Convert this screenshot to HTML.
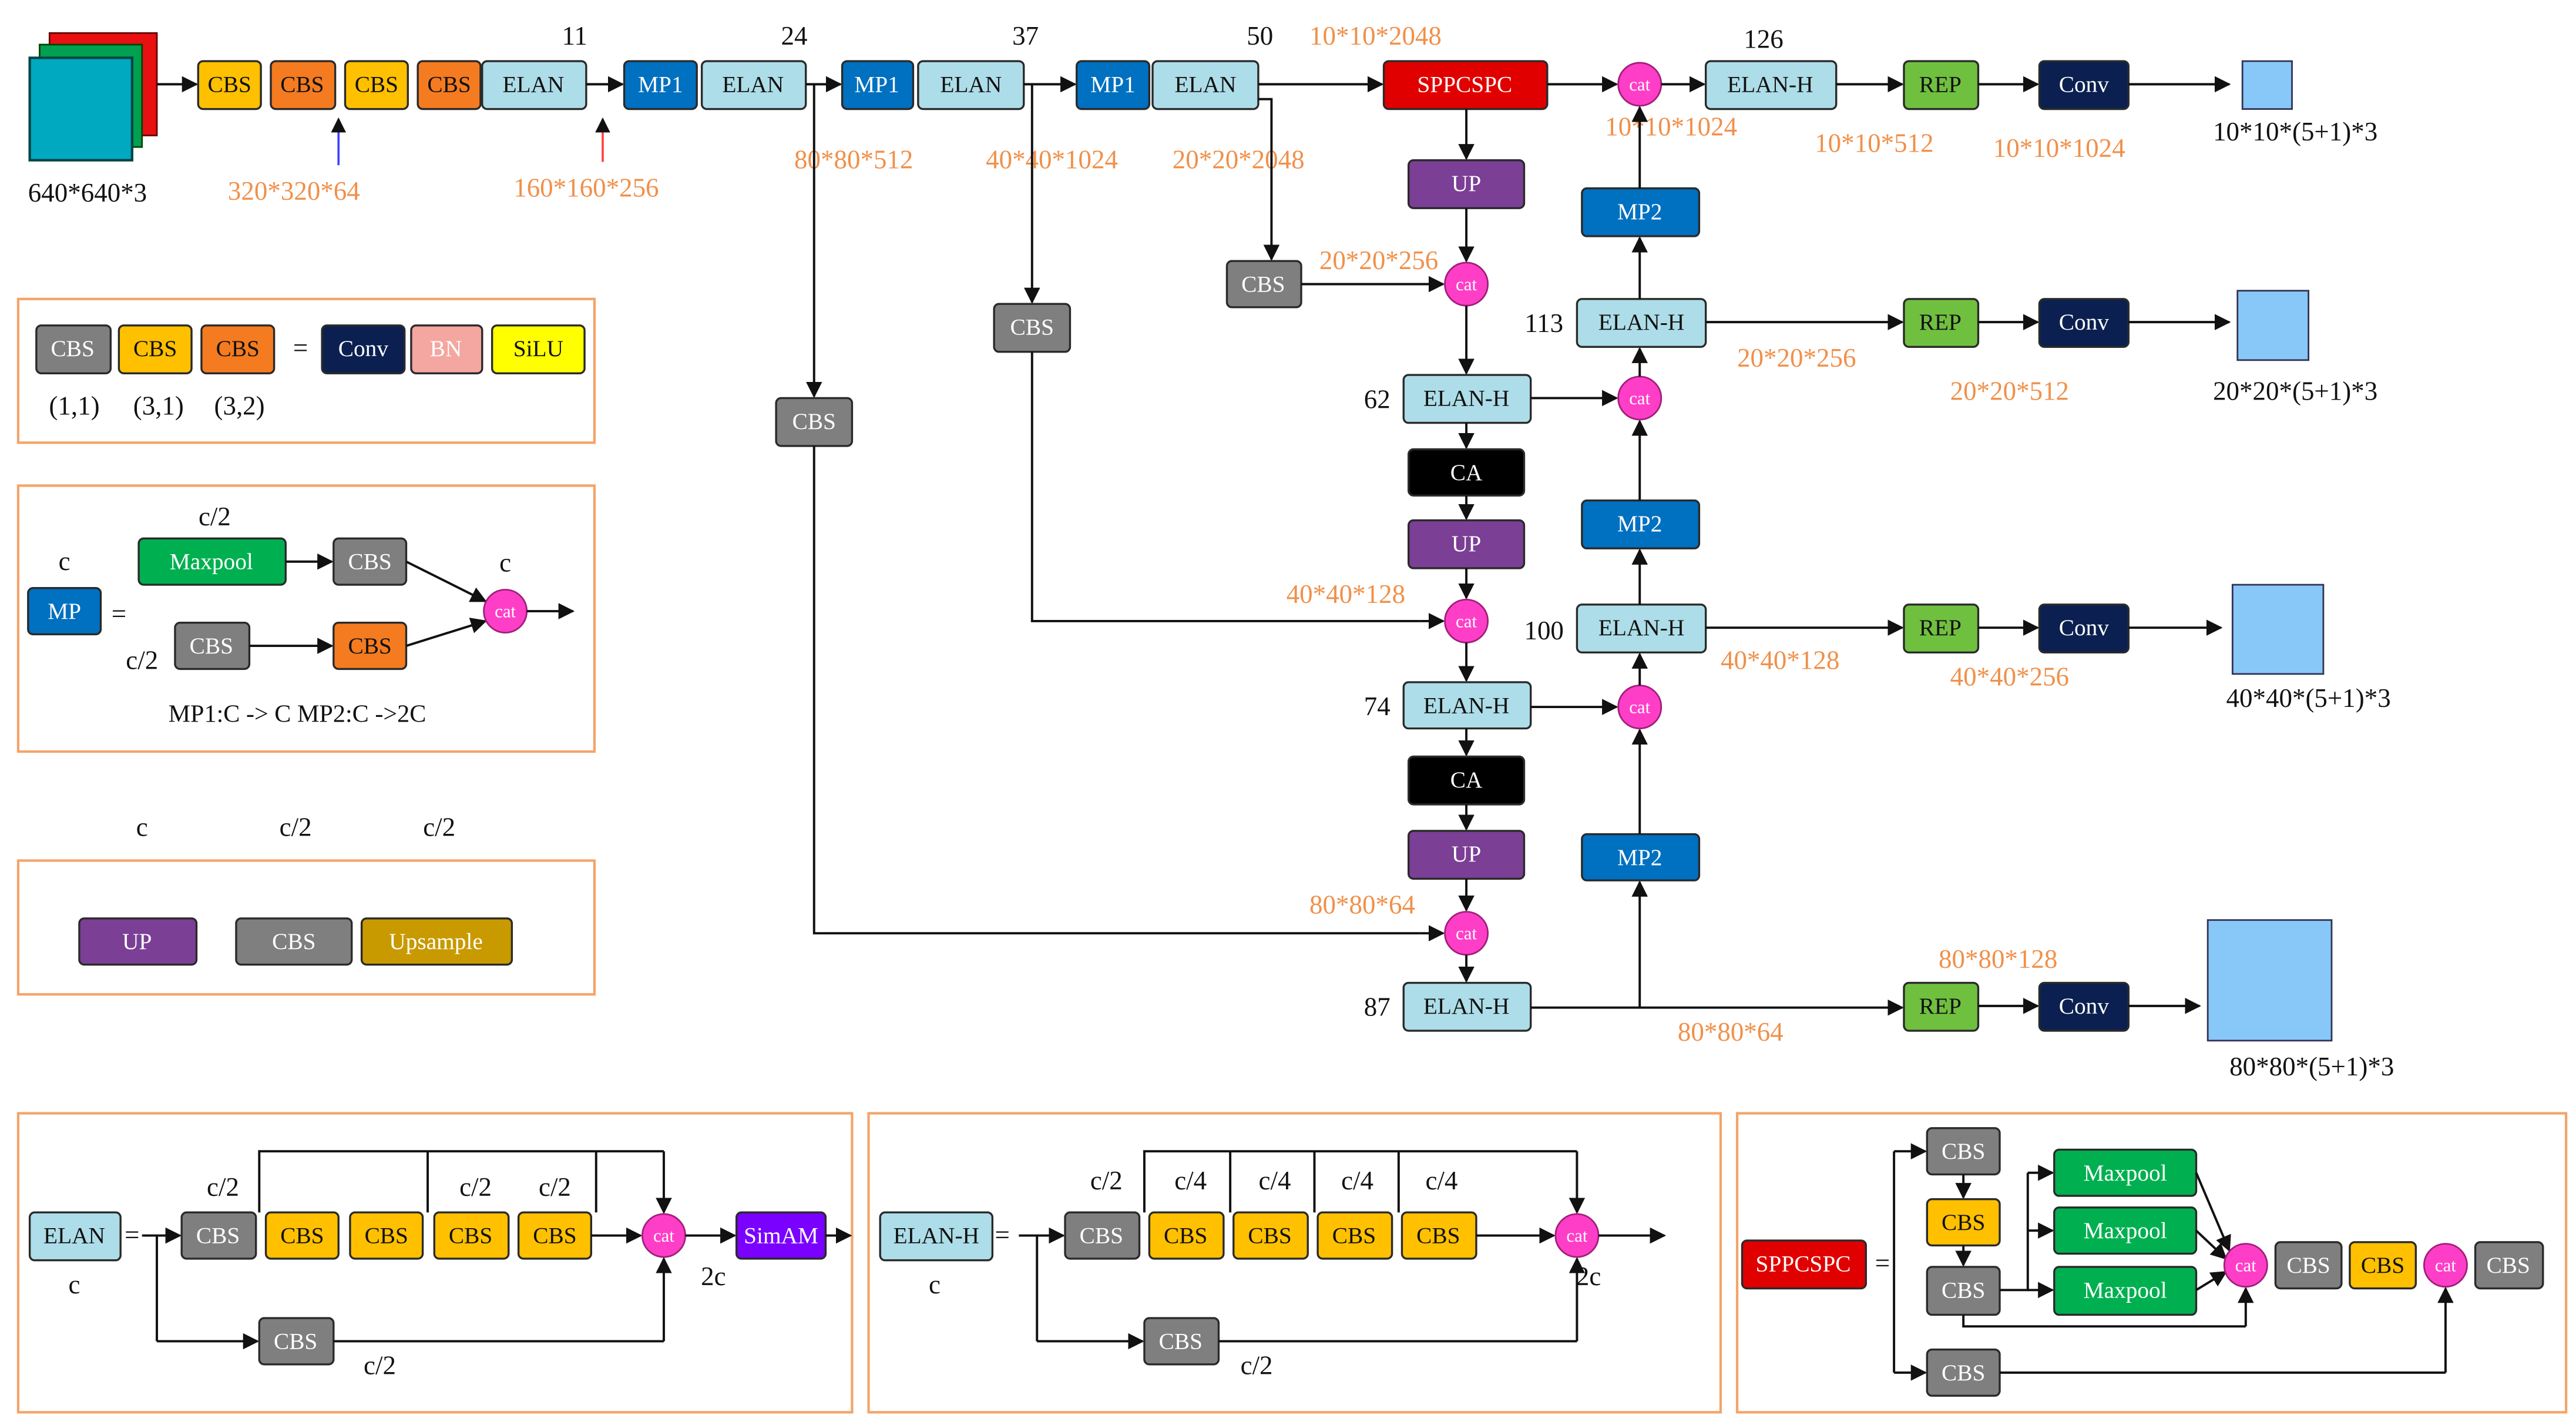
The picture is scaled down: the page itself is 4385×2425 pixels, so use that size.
<!DOCTYPE html>
<html><head><meta charset="utf-8"><style>
html,body{margin:0;padding:0;background:#fff;}
svg{display:block;}
text{font-family:"Liberation Serif",serif;}
.b{stroke:#2a2a2a;stroke-width:1.2;}
.t{font-size:14px;text-anchor:middle;dominant-baseline:central;}
.w{fill:#fff;}
.k{fill:#111;}
.n{font-size:16px;text-anchor:middle;fill:#111;}
.o{font-size:16px;text-anchor:middle;fill:#F0904A;}
.l{stroke:#111;stroke-width:1.4;fill:none;}
.la{stroke:#111;stroke-width:1.4;fill:none;marker-end:url(#ar);}
.pan{fill:none;stroke:#F4A46A;stroke-width:1.5;}
.cat{fill:#FF3EC8;stroke:#a0207a;stroke-width:1;}
</style></head><body>
<svg width="4385" height="2425" viewBox="0 0 1560 862.7" xmlns="http://www.w3.org/2000/svg">
<defs><marker id="ar" viewBox="0 0 10 10" refX="9" refY="5" markerWidth="7" markerHeight="7" orient="auto-start-reverse"><path d="M0,0 L10,5 L0,10 z" fill="#111"/></marker></defs>

<!-- input image -->
<rect x="30" y="20" width="65" height="62" fill="#E81010" stroke="#600" stroke-width="1"/>
<rect x="24" y="27" width="62" height="62" fill="#00A050" stroke="#040" stroke-width="1"/>
<rect x="18" y="35" width="62" height="62" fill="#00A8C0" stroke="#044" stroke-width="1.5"/>
<text class="n" x="53" y="122">640*640*3</text>
<line class="la" x1="95" y1="51" x2="119" y2="51"/>

<!-- top row -->
<rect class="b" x="120" y="37" width="38" height="29" rx="3" fill="#FFC000"/><text class="t k" x="139" y="51">CBS</text>
<rect class="b" x="164" y="37" width="39" height="29" rx="3" fill="#F47B20"/><text class="t k" x="183" y="51">CBS</text>
<rect class="b" x="209" y="37" width="38" height="29" rx="3" fill="#FFC000"/><text class="t k" x="228" y="51">CBS</text>
<rect class="b" x="253" y="37" width="38" height="29" rx="3" fill="#F47B20"/><text class="t k" x="272" y="51">CBS</text>
<rect class="b" x="292" y="37" width="63" height="29" rx="3" fill="#ADDDE8"/><text class="t k" x="323" y="51">ELAN</text>
<line x1="205" y1="100" x2="205" y2="72" stroke="#4040ff" stroke-width="1.3" marker-end="url(#ar)"/>
<line x1="365" y1="98" x2="365" y2="72" stroke="#ff4040" stroke-width="1.3" marker-end="url(#ar)"/>
<text class="o" x="178" y="121">320*320*64</text>
<text class="o" x="355" y="119">160*160*256</text>
<text class="n" x="348" y="27">11</text>
<line class="la" x1="355" y1="51" x2="377" y2="51"/>
<rect class="b" x="378" y="37" width="44" height="29" rx="3" fill="#0070C0"/><text class="t w" x="400" y="51">MP1</text>
<rect class="b" x="425" y="37" width="63" height="29" rx="3" fill="#ADDDE8"/><text class="t k" x="456" y="51">ELAN</text>
<line class="la" x1="488" y1="51" x2="509" y2="51"/>
<rect class="b" x="510" y="37" width="43" height="29" rx="3" fill="#0070C0"/><text class="t w" x="531" y="51">MP1</text>
<rect class="b" x="556" y="37" width="64" height="29" rx="3" fill="#ADDDE8"/><text class="t k" x="588" y="51">ELAN</text>
<line class="la" x1="620" y1="51" x2="651" y2="51"/>
<rect class="b" x="652" y="37" width="44" height="29" rx="3" fill="#0070C0"/><text class="t w" x="674" y="51">MP1</text>
<rect class="b" x="698" y="37" width="64" height="29" rx="3" fill="#ADDDE8"/><text class="t k" x="730" y="51">ELAN</text>
<line class="la" x1="762" y1="51" x2="837" y2="51"/>
<rect class="b" x="838" y="37" width="99" height="29" rx="3" fill="#E00000"/><text class="t w" x="887" y="51">SPPCSPC</text>
<line class="la" x1="937" y1="51" x2="979" y2="51"/>
<circle class="cat" cx="993" cy="51" r="13"/><text class="t w" x="993" y="51" style="font-size:11px">cat</text>
<line class="la" x1="1006" y1="51" x2="1032" y2="51"/>
<rect class="b" x="1033" y="37" width="79" height="29" rx="3" fill="#ADDDE8"/><text class="t k" x="1072" y="51">ELAN-H</text>
<line class="la" x1="1112" y1="51" x2="1152" y2="51"/>
<rect class="b" x="1153" y="37" width="45" height="29" rx="3" fill="#70C040"/><text class="t k" x="1175" y="51">REP</text>
<line class="la" x1="1198" y1="51" x2="1234" y2="51"/>
<rect class="b" x="1235" y="37" width="54" height="29" rx="3" fill="#0B2050"/><text class="t w" x="1262" y="51">Conv</text>
<line class="la" x1="1289" y1="51" x2="1350" y2="51"/>
<rect x="1358" y="37" width="30" height="29" fill="#88C8F8" stroke="#335" stroke-width="1"/>

<text class="n" x="481" y="27">24</text>
<text class="n" x="621" y="27">37</text>
<text class="n" x="763" y="27">50</text>
<text class="o" x="833" y="27">10*10*2048</text>
<text class="n" x="1068" y="29">126</text>
<text class="o" x="517" y="102">80*80*512</text>
<text class="o" x="637" y="102">40*40*1024</text>
<text class="o" x="750" y="102">20*20*2048</text>
<text class="o" x="1012" y="82">10*10*1024</text>
<text class="o" x="1135" y="92">10*10*512</text>
<text class="o" x="1247" y="95">10*10*1024</text>
<text class="n" x="1390" y="85">10*10*(5+1)*3</text>

<!-- side CBS branches -->
<line class="la" x1="493" y1="51" x2="493" y2="240"/>
<rect class="b" x="470" y="241" width="46" height="29" rx="3" fill="#7F7F7F"/><text class="t w" x="493" y="255">CBS</text>
<polyline class="l" points="493,270 493,565 860,565"/><line class="la" x1="860" y1="565" x2="874" y2="565"/>
<line class="la" x1="625" y1="51" x2="625" y2="183"/>
<rect class="b" x="602" y="184" width="46" height="29" rx="3" fill="#7F7F7F"/><text class="t w" x="625" y="198">CBS</text>
<polyline class="l" points="625,213 625,376 860,376"/><line class="la" x1="860" y1="376" x2="874" y2="376"/>
<polyline class="l" points="762,60 770,60 770,140"/><line class="la" x1="770" y1="140" x2="770" y2="157"/>
<rect class="b" x="743" y="158" width="45" height="28" rx="3" fill="#7F7F7F"/><text class="t w" x="765" y="172">CBS</text>
<line class="la" x1="788" y1="172" x2="874" y2="172"/>
<text class="o" x="835" y="163">20*20*256</text>

<!-- center column -->
<line class="la" x1="888" y1="66" x2="888" y2="96"/>
<rect class="b" x="853" y="97" width="70" height="29" rx="3" fill="#7B3F96"/><text class="t w" x="888" y="111">UP</text>
<line class="la" x1="888" y1="126" x2="888" y2="158"/>
<circle class="cat" cx="888" cy="172" r="13"/><text class="t w" x="888" y="172" style="font-size:11px">cat</text>
<line class="la" x1="888" y1="185" x2="888" y2="226"/>
<rect class="b" x="850" y="227" width="77" height="29" rx="3" fill="#ADDDE8"/><text class="t k" x="888" y="241">ELAN-H</text>
<text class="n" x="834" y="247">62</text>
<line class="la" x1="888" y1="256" x2="888" y2="271"/>
<rect class="b" x="853" y="272" width="70" height="28" rx="3" fill="#000"/><text class="t w" x="888" y="286">CA</text>
<line class="la" x1="888" y1="300" x2="888" y2="314"/>
<rect class="b" x="853" y="315" width="70" height="29" rx="3" fill="#7B3F96"/><text class="t w" x="888" y="329">UP</text>
<line class="la" x1="888" y1="344" x2="888" y2="362"/>
<circle class="cat" cx="888" cy="376" r="13"/><text class="t w" x="888" y="376" style="font-size:11px">cat</text>
<text class="o" x="815" y="365">40*40*128</text>
<line class="la" x1="888" y1="389" x2="888" y2="412"/>
<rect class="b" x="850" y="413" width="77" height="28" rx="3" fill="#ADDDE8"/><text class="t k" x="888" y="427">ELAN-H</text>
<text class="n" x="834" y="433">74</text>
<line class="la" x1="888" y1="441" x2="888" y2="457"/>
<rect class="b" x="853" y="458" width="70" height="29" rx="3" fill="#000"/><text class="t w" x="888" y="472">CA</text>
<line class="la" x1="888" y1="487" x2="888" y2="502"/>
<rect class="b" x="853" y="503" width="70" height="29" rx="3" fill="#7B3F96"/><text class="t w" x="888" y="517">UP</text>
<line class="la" x1="888" y1="532" x2="888" y2="551"/>
<circle class="cat" cx="888" cy="565" r="13"/><text class="t w" x="888" y="565" style="font-size:11px">cat</text>
<text class="o" x="825" y="553">80*80*64</text>
<line class="la" x1="888" y1="578" x2="888" y2="594"/>
<rect class="b" x="850" y="595" width="77" height="29" rx="3" fill="#ADDDE8"/><text class="t k" x="888" y="609">ELAN-H</text>
<text class="n" x="834" y="615">87</text>

<!-- right column -->
<line class="la" x1="927" y1="610" x2="1152" y2="610"/>
<line class="la" x1="993" y1="610" x2="993" y2="534"/>
<rect class="b" x="958" y="505" width="71" height="28" rx="3" fill="#0070C0"/><text class="t w" x="993" y="519">MP2</text>
<line class="la" x1="993" y1="505" x2="993" y2="442"/>
<line class="la" x1="927" y1="428" x2="979" y2="428"/>
<circle class="cat" cx="993" cy="428" r="13"/><text class="t w" x="993" y="428" style="font-size:11px">cat</text>
<line class="la" x1="993" y1="415" x2="993" y2="396"/>
<rect class="b" x="955" y="366" width="78" height="29" rx="3" fill="#ADDDE8"/><text class="t k" x="994" y="380">ELAN-H</text>
<text class="n" x="935" y="387">100</text>
<line class="la" x1="993" y1="366" x2="993" y2="333"/>
<rect class="b" x="958" y="303" width="71" height="29" rx="3" fill="#0070C0"/><text class="t w" x="993" y="317">MP2</text>
<line class="la" x1="993" y1="303" x2="993" y2="255"/>
<line class="la" x1="927" y1="241" x2="979" y2="241"/>
<circle class="cat" cx="993" cy="241" r="13"/><text class="t w" x="993" y="241" style="font-size:11px">cat</text>
<line class="la" x1="993" y1="228" x2="993" y2="211"/>
<rect class="b" x="955" y="181" width="78" height="29" rx="3" fill="#ADDDE8"/><text class="t k" x="994" y="195">ELAN-H</text>
<text class="n" x="935" y="201">113</text>
<line class="la" x1="993" y1="181" x2="993" y2="144"/>
<rect class="b" x="958" y="114" width="71" height="29" rx="3" fill="#0070C0"/><text class="t w" x="993" y="128">MP2</text>
<line class="la" x1="993" y1="114" x2="993" y2="65"/>

<!-- outputs -->
<line class="la" x1="1033" y1="195" x2="1152" y2="195"/>
<rect class="b" x="1153" y="181" width="45" height="29" rx="3" fill="#70C040"/><text class="t k" x="1175" y="195">REP</text>
<line class="la" x1="1198" y1="195" x2="1234" y2="195"/>
<rect class="b" x="1235" y="181" width="54" height="29" rx="3" fill="#0B2050"/><text class="t w" x="1262" y="195">Conv</text>
<line class="la" x1="1289" y1="195" x2="1350" y2="195"/>
<rect x="1355" y="176" width="43" height="42" fill="#88C8F8" stroke="#335" stroke-width="1"/>
<text class="o" x="1088" y="222">20*20*256</text>
<text class="o" x="1217" y="242">20*20*512</text>
<text class="n" x="1390" y="242">20*20*(5+1)*3</text>

<line class="la" x1="1033" y1="380" x2="1152" y2="380"/>
<rect class="b" x="1153" y="366" width="45" height="29" rx="3" fill="#70C040"/><text class="t k" x="1175" y="380">REP</text>
<line class="la" x1="1198" y1="380" x2="1234" y2="380"/>
<rect class="b" x="1235" y="366" width="54" height="29" rx="3" fill="#0B2050"/><text class="t w" x="1262" y="380">Conv</text>
<line class="la" x1="1289" y1="380" x2="1345" y2="380"/>
<rect x="1352" y="354" width="55" height="54" fill="#88C8F8" stroke="#335" stroke-width="1"/>
<text class="o" x="1078" y="405">40*40*128</text>
<text class="o" x="1217" y="415">40*40*256</text>
<text class="n" x="1398" y="428">40*40*(5+1)*3</text>

<rect class="b" x="1153" y="595" width="45" height="29" rx="3" fill="#70C040"/><text class="t k" x="1175" y="609">REP</text>
<line class="la" x1="1198" y1="609" x2="1234" y2="609"/>
<rect class="b" x="1235" y="595" width="54" height="29" rx="3" fill="#0B2050"/><text class="t w" x="1262" y="609">Conv</text>
<line class="la" x1="1289" y1="609" x2="1332" y2="609"/>
<rect x="1337" y="557" width="75" height="73" fill="#88C8F8" stroke="#335" stroke-width="1"/>
<text class="o" x="1048" y="630">80*80*64</text>
<text class="o" x="1210" y="586">80*80*128</text>
<text class="n" x="1400" y="651">80*80*(5+1)*3</text>

<!-- legend 1 -->
<rect class="pan" x="11" y="181" width="349" height="87"/>
<rect class="b" x="22" y="197" width="45" height="29" rx="3" fill="#7F7F7F"/><text class="t w" x="44" y="211">CBS</text>
<rect class="b" x="72" y="197" width="44" height="29" rx="3" fill="#FFC000"/><text class="t k" x="94" y="211">CBS</text>
<rect class="b" x="122" y="197" width="44" height="29" rx="3" fill="#F47B20"/><text class="t k" x="144" y="211">CBS</text>
<text class="n" x="182" y="216">=</text>
<rect class="b" x="195" y="197" width="50" height="29" rx="3" fill="#0B2050"/><text class="t w" x="220" y="211">Conv</text>
<rect class="b" x="249" y="197" width="43" height="29" rx="3" fill="#F4A6A0"/><text class="t w" x="270" y="211">BN</text>
<rect class="b" x="298" y="197" width="56" height="29" rx="3" fill="#FFFF00"/><text class="t k" x="326" y="211">SiLU</text>
<text class="n" x="45" y="251">(1,1)</text><text class="n" x="96" y="251">(3,1)</text><text class="n" x="145" y="251">(3,2)</text>

<!-- legend 2 MP -->
<rect class="pan" x="11" y="294" width="349" height="161"/>
<text class="n" x="39" y="345">c</text>
<rect class="b" x="17" y="356" width="44" height="28" rx="3" fill="#0070C0"/><text class="t w" x="39" y="370">MP</text>
<text class="n" x="72" y="377">=</text>
<text class="n" x="130" y="318">c/2</text>
<rect class="b" x="84" y="326" width="89" height="28" rx="3" fill="#00B050"/><text class="t w" x="128" y="340">Maxpool</text>
<line class="la" x1="173" y1="340" x2="201" y2="340"/>
<rect class="b" x="202" y="326" width="44" height="28" rx="3" fill="#7F7F7F"/><text class="t w" x="224" y="340">CBS</text>
<text class="n" x="86" y="405">c/2</text>
<rect class="b" x="106" y="377" width="45" height="28" rx="3" fill="#7F7F7F"/><text class="t w" x="128" y="391">CBS</text>
<line class="la" x1="151" y1="391" x2="201" y2="391"/>
<rect class="b" x="202" y="377" width="44" height="28" rx="3" fill="#F47B20"/><text class="t k" x="224" y="391">CBS</text>
<line class="la" x1="246" y1="340" x2="294" y2="364"/>
<line class="la" x1="246" y1="391" x2="294" y2="376"/>
<text class="n" x="306" y="346">c</text>
<circle class="cat" cx="306" cy="370" r="13"/><text class="t w" x="306" y="370" style="font-size:11px">cat</text>
<line class="la" x1="319" y1="370" x2="347" y2="370"/>
<text class="n" x="180" y="437" style="font-size:15px">MP1:C -&gt; C   MP2:C  -&gt;2C</text>

<!-- legend 3 UP -->
<text class="n" x="86" y="506">c</text><text class="n" x="179" y="506">c/2</text><text class="n" x="266" y="506">c/2</text>
<rect class="pan" x="11" y="521" width="349" height="81"/>
<rect class="b" x="48" y="556" width="71" height="28" rx="3" fill="#7B3F96"/><text class="t w" x="83" y="570">UP</text>
<rect class="b" x="143" y="556" width="70" height="28" rx="3" fill="#7F7F7F"/><text class="t w" x="178" y="570">CBS</text>
<rect class="b" x="219" y="556" width="91" height="28" rx="3" fill="#C89A00"/><text class="t w" x="264" y="570">Upsample</text>

<!-- bottom panel 1 ELAN -->
<rect class="pan" x="11" y="674" width="505" height="181"/>
<rect class="b" x="18" y="734" width="55" height="29" rx="3" fill="#ADDDE8"/><text class="t k" x="45" y="748">ELAN</text>
<text class="n" x="80" y="753">=</text><text class="n" x="45" y="783">c</text>
<line class="la" x1="86" y1="748" x2="109" y2="748"/>
<polyline class="l" points="95,748 95,812"/><line class="la" x1="95" y1="812" x2="156" y2="812"/>
<rect class="b" x="110" y="734" width="45" height="28" rx="3" fill="#7F7F7F"/><text class="t w" x="132" y="748">CBS</text>
<rect class="b" x="161" y="734" width="44" height="28" rx="3" fill="#FFC000"/><text class="t k" x="183" y="748">CBS</text>
<rect class="b" x="212" y="734" width="44" height="28" rx="3" fill="#FFC000"/><text class="t k" x="234" y="748">CBS</text>
<rect class="b" x="263" y="734" width="45" height="28" rx="3" fill="#FFC000"/><text class="t k" x="285" y="748">CBS</text>
<rect class="b" x="314" y="734" width="44" height="28" rx="3" fill="#FFC000"/><text class="t k" x="336" y="748">CBS</text>
<line class="la" x1="358" y1="748" x2="388" y2="748"/>
<polyline class="l" points="157,734 157,697 402,697"/><line class="la" x1="402" y1="697" x2="402" y2="734"/>
<line class="l" x1="259" y1="734" x2="259" y2="697"/><line class="l" x1="361" y1="734" x2="361" y2="697"/>
<text class="n" x="135" y="724">c/2</text><text class="n" x="288" y="724">c/2</text><text class="n" x="336" y="724">c/2</text>
<circle class="cat" cx="402" cy="748" r="13"/><text class="t w" x="402" y="748" style="font-size:11px">cat</text>
<rect class="b" x="157" y="798" width="45" height="28" rx="3" fill="#7F7F7F"/><text class="t w" x="179" y="812">CBS</text>
<polyline class="l" points="202,812 402,812"/><line class="la" x1="402" y1="812" x2="402" y2="762"/>
<text class="n" x="230" y="832">c/2</text><text class="n" x="432" y="778">2c</text>
<line class="la" x1="415" y1="748" x2="445" y2="748"/>
<rect class="b" x="446" y="734" width="54" height="28" rx="3" fill="#7A00FF"/><text class="t w" x="473" y="748">SimAM</text>
<line class="la" x1="500" y1="748" x2="515" y2="748"/>

<!-- bottom panel 2 ELAN-H -->
<rect class="pan" x="526" y="674" width="516" height="181"/>
<rect class="b" x="533" y="734" width="68" height="29" rx="3" fill="#ADDDE8"/><text class="t k" x="567" y="748">ELAN-H</text>
<text class="n" x="607" y="753">=</text><text class="n" x="566" y="783">c</text>
<line class="la" x1="617" y1="748" x2="644" y2="748"/>
<polyline class="l" points="628,748 628,812"/><line class="la" x1="628" y1="812" x2="692" y2="812"/>
<rect class="b" x="645" y="734" width="45" height="28" rx="3" fill="#7F7F7F"/><text class="t w" x="667" y="748">CBS</text>
<rect class="b" x="696" y="734" width="45" height="28" rx="3" fill="#FFC000"/><text class="t k" x="718" y="748">CBS</text>
<rect class="b" x="747" y="734" width="45" height="28" rx="3" fill="#FFC000"/><text class="t k" x="769" y="748">CBS</text>
<rect class="b" x="798" y="734" width="45" height="28" rx="3" fill="#FFC000"/><text class="t k" x="820" y="748">CBS</text>
<rect class="b" x="849" y="734" width="45" height="28" rx="3" fill="#FFC000"/><text class="t k" x="871" y="748">CBS</text>
<line class="la" x1="894" y1="748" x2="941" y2="748"/>
<polyline class="l" points="693,734 693,697 955,697"/><line class="la" x1="955" y1="697" x2="955" y2="734"/>
<line class="l" x1="745" y1="734" x2="745" y2="697"/><line class="l" x1="796" y1="734" x2="796" y2="697"/><line class="l" x1="847" y1="734" x2="847" y2="697"/>
<text class="n" x="670" y="720">c/2</text><text class="n" x="721" y="720">c/4</text><text class="n" x="772" y="720">c/4</text><text class="n" x="822" y="720">c/4</text><text class="n" x="873" y="720">c/4</text>
<circle class="cat" cx="955" cy="748" r="13"/><text class="t w" x="955" y="748" style="font-size:11px">cat</text>
<rect class="b" x="693" y="798" width="45" height="28" rx="3" fill="#7F7F7F"/><text class="t w" x="715" y="812">CBS</text>
<polyline class="l" points="738,812 955,812"/><line class="la" x1="955" y1="812" x2="955" y2="762"/>
<text class="n" x="761" y="832">c/2</text><text class="n" x="962" y="778">2c</text>
<line class="la" x1="968" y1="748" x2="1008" y2="748"/>

<!-- bottom panel 3 SPPCSPC -->
<rect class="pan" x="1052" y="674" width="502" height="181"/>
<rect class="b" x="1055" y="751" width="75" height="29" rx="3" fill="#E00000"/><text class="t w" x="1092" y="765">SPPCSPC</text>
<text class="n" x="1140" y="770">=</text>
<line class="l" x1="1147" y1="697" x2="1147" y2="831"/>
<line class="la" x1="1147" y1="697" x2="1166" y2="697"/>
<line class="la" x1="1147" y1="831" x2="1166" y2="831"/>
<rect class="b" x="1167" y="683" width="44" height="28" rx="3" fill="#7F7F7F"/><text class="t w" x="1189" y="697">CBS</text>
<line class="la" x1="1189" y1="711" x2="1189" y2="725"/>
<rect class="b" x="1167" y="726" width="44" height="28" rx="3" fill="#FFC000"/><text class="t k" x="1189" y="740">CBS</text>
<line class="la" x1="1189" y1="754" x2="1189" y2="766"/>
<rect class="b" x="1167" y="767" width="44" height="29" rx="3" fill="#7F7F7F"/><text class="t w" x="1189" y="781">CBS</text>
<polyline class="l" points="1211,781 1228,781 1228,710"/>
<line class="la" x1="1228" y1="710" x2="1243" y2="710"/>
<line class="la" x1="1228" y1="745" x2="1243" y2="745"/>
<line class="la" x1="1228" y1="781" x2="1243" y2="781"/>
<rect class="b" x="1244" y="696" width="86" height="28" rx="3" fill="#00B050"/><text class="t w" x="1287" y="710">Maxpool</text>
<rect class="b" x="1244" y="731" width="86" height="28" rx="3" fill="#00B050"/><text class="t w" x="1287" y="745">Maxpool</text>
<rect class="b" x="1244" y="767" width="86" height="29" rx="3" fill="#00B050"/><text class="t w" x="1287" y="781">Maxpool</text>
<line class="la" x1="1330" y1="710" x2="1350" y2="757"/>
<line class="la" x1="1330" y1="745" x2="1348" y2="762"/>
<line class="la" x1="1330" y1="781" x2="1348" y2="770"/>
<polyline class="l" points="1189,796 1189,803 1360,803"/><line class="la" x1="1360" y1="803" x2="1360" y2="780"/>
<circle class="cat" cx="1360" cy="766" r="13"/><text class="t w" x="1360" y="766" style="font-size:11px">cat</text>
<rect class="b" x="1378" y="752" width="40" height="28" rx="3" fill="#7F7F7F"/><text class="t w" x="1398" y="766">CBS</text>
<rect class="b" x="1423" y="752" width="40" height="28" rx="3" fill="#FFC000"/><text class="t k" x="1443" y="766">CBS</text>
<circle class="cat" cx="1481" cy="766" r="13"/><text class="t w" x="1481" y="766" style="font-size:11px">cat</text>
<rect class="b" x="1499" y="752" width="41" height="28" rx="3" fill="#7F7F7F"/><text class="t w" x="1519" y="766">CBS</text>
<rect class="b" x="1167" y="817" width="44" height="28" rx="3" fill="#7F7F7F"/><text class="t w" x="1189" y="831">CBS</text>
<polyline class="l" points="1211,831 1481,831"/><line class="la" x1="1481" y1="831" x2="1481" y2="780"/>
</svg>
</body></html>
